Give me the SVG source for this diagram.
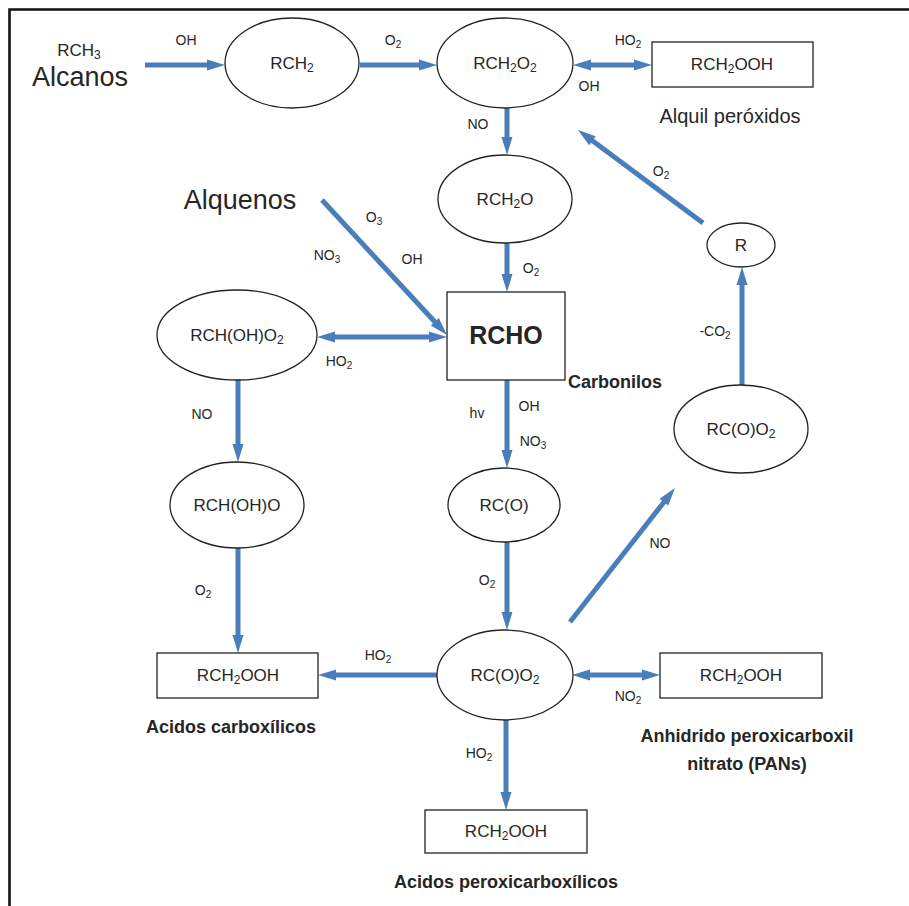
<svg xmlns="http://www.w3.org/2000/svg" width="909" height="906" viewBox="0 0 909 906">
<style>
.bg{fill:#ffffff}
.frame{fill:none;stroke:#111;stroke-width:2.6}
.nd{fill:#ffffff;stroke:#222;stroke-width:1.3}
.t{font-family:"Liberation Sans",Arial,sans-serif;fill:#262626;text-anchor:middle}
.n{font-size:17px}
.s{font-size:14px}
.b{font-weight:bold;font-size:18px}
.big{font-size:27px}
.cap{font-size:20px}
.c path,.c line{stroke:#4A7EBB;stroke-width:5;fill:none}
</style>
<defs>
<marker id="ah" markerUnits="userSpaceOnUse" markerWidth="18" markerHeight="11" refX="5" refY="5.5" orient="auto-start-reverse" overflow="visible">
<path d="M0,0 L18,5.5 L0,11 z" fill="#4A7EBB"/>
</marker>
</defs>
<rect class="bg" x="0" y="0" width="909" height="906"/>
<path class="frame" d="M9.5,906 V9.5 H909"/>

<g id="connectors" class="c">
<line x1="145" y1="65" x2="212" y2="65" marker-end="url(#ah)"/>
<line x1="360" y1="65" x2="424" y2="65" marker-end="url(#ah)"/>
<line x1="586" y1="65" x2="639" y2="65" marker-start="url(#ah)" marker-end="url(#ah)"/>
<line x1="507" y1="108" x2="507" y2="142" marker-end="url(#ah)"/>
<line x1="507" y1="243" x2="507" y2="279" marker-end="url(#ah)"/>
<line x1="703" y1="223" x2="588.4" y2="137.8" marker-end="url(#ah)"/>
<line x1="742" y1="385" x2="742" y2="280" marker-end="url(#ah)"/>
<line x1="322" y1="200" x2="438.2" y2="325.5" marker-end="url(#ah)"/>
<line x1="330" y1="337" x2="434" y2="337" marker-start="url(#ah)" marker-end="url(#ah)"/>
<line x1="238" y1="380" x2="238" y2="449" marker-end="url(#ah)"/>
<line x1="238" y1="548" x2="238" y2="640" marker-end="url(#ah)"/>
<line x1="507" y1="380" x2="507" y2="455" marker-end="url(#ah)"/>
<line x1="507" y1="542" x2="507" y2="617" marker-end="url(#ah)"/>
<line x1="570" y1="622" x2="667" y2="498.2" marker-end="url(#ah)"/>
<line x1="437" y1="675" x2="331" y2="675" marker-end="url(#ah)"/>
<line x1="585" y1="675" x2="647" y2="675" marker-start="url(#ah)" marker-end="url(#ah)"/>
<line x1="506" y1="720" x2="506" y2="797" marker-end="url(#ah)"/>
</g>

<g id="labels">
<text class="t s" x="186" y="45">OH</text>
<text class="t s" x="393" y="45">O<tspan font-size="10" dy="3">2</tspan></text>
<text class="t s" x="628" y="45">HO<tspan font-size="10" dy="3">2</tspan></text>
<text class="t s" x="589" y="91">OH</text>
<text class="t s" x="478" y="129">NO</text>
<text class="t s" x="661" y="176">O<tspan font-size="10" dy="3">2</tspan></text>
<text class="t s" x="374" y="222">O<tspan font-size="10" dy="3">3</tspan></text>
<text class="t s" x="327" y="260">NO<tspan font-size="10" dy="3">3</tspan></text>
<text class="t s" x="412" y="264">OH</text>
<text class="t s" x="531" y="273">O<tspan font-size="10" dy="3">2</tspan></text>
<text class="t s" x="339" y="366">HO<tspan font-size="10" dy="3">2</tspan></text>
<text class="t s" x="715" y="336">-CO<tspan font-size="10" dy="3">2</tspan></text>
<text class="t s" x="202" y="419">NO</text>
<text class="t s" x="477" y="418">hv</text>
<text class="t s" x="529" y="411">OH</text>
<text class="t s" x="533" y="446">NO<tspan font-size="10" dy="3">3</tspan></text>
<text class="t s" x="660" y="548">NO</text>
<text class="t s" x="203" y="595">O<tspan font-size="10" dy="3">2</tspan></text>
<text class="t s" x="487" y="585">O<tspan font-size="10" dy="3">2</tspan></text>
<text class="t s" x="378" y="660">HO<tspan font-size="10" dy="3">2</tspan></text>
<text class="t s" x="628" y="701">NO<tspan font-size="10" dy="3">2</tspan></text>
<text class="t s" x="479" y="758">HO<tspan font-size="10" dy="3">2</tspan></text>
</g>

<g id="alcanos">
<text class="t n" x="79" y="56">RCH<tspan font-size="12" dy="3">3</tspan></text>
<text class="t big" x="80" y="86">Alcanos</text>
</g>
<g id="alquenos">
<text class="t big" x="240" y="209">Alquenos</text>
</g>

<g id="rch2">
<ellipse class="nd" cx="292" cy="63" rx="67" ry="45"/>
<text class="t n" x="292" y="69">RCH<tspan font-size="12" dy="3">2</tspan></text>
</g>
<g id="rch2o2">
<ellipse class="nd" cx="505" cy="63" rx="68" ry="45"/>
<text class="t n" x="505" y="69">RCH<tspan font-size="12" dy="3">2</tspan><tspan dy="-3">O</tspan><tspan font-size="12" dy="3">2</tspan></text>
</g>
<g id="alquilperoxidos">
<rect class="nd" x="652" y="42" width="161" height="45"/>
<text class="t n" x="732" y="70">RCH<tspan font-size="12" dy="3">2</tspan><tspan dy="-3">OOH</tspan></text>
<text class="t cap" x="730" y="123">Alquil peróxidos</text>
</g>
<g id="rch2o">
<ellipse class="nd" cx="505" cy="199" rx="67" ry="44"/>
<text class="t n" x="505" y="205">RCH<tspan font-size="12" dy="3">2</tspan><tspan dy="-3">O</tspan></text>
</g>
<g id="rcho">
<rect class="nd" x="447" y="292" width="118" height="88"/>
<text class="t" x="506" y="344" style="font-size:25px;font-weight:bold">RCHO</text>
<text class="t b" x="568" y="388" style="text-anchor:start">Carbonilos</text>
</g>
<g id="r">
<ellipse class="nd" cx="741" cy="245" rx="34" ry="22"/>
<text class="t n" x="741" y="251">R</text>
</g>
<g id="rco_o2_top">
<ellipse class="nd" cx="741" cy="429" rx="67" ry="44"/>
<text class="t n" x="741" y="435">RC(O)O<tspan font-size="12" dy="3">2</tspan></text>
</g>
<g id="rchoho2">
<ellipse class="nd" cx="237" cy="335" rx="80" ry="45"/>
<text class="t n" x="237" y="341">RCH(OH)O<tspan font-size="12" dy="3">2</tspan></text>
</g>
<g id="rchoho">
<ellipse class="nd" cx="237" cy="505" rx="67" ry="43"/>
<text class="t n" x="237" y="511">RCH(OH)O</text>
</g>
<g id="acidoscarboxilicos">
<rect class="nd" x="157" y="653" width="161" height="45"/>
<text class="t n" x="238" y="681">RCH<tspan font-size="12" dy="3">2</tspan><tspan dy="-3">OOH</tspan></text>
<text class="t b" x="231" y="733">Acidos carboxílicos</text>
</g>
<g id="rco">
<ellipse class="nd" cx="504" cy="505" rx="56" ry="37"/>
<text class="t n" x="504" y="511">RC(O)</text>
</g>
<g id="rco_o2_bottom">
<ellipse class="nd" cx="505" cy="675" rx="68" ry="45"/>
<text class="t n" x="505" y="681">RC(O)O<tspan font-size="12" dy="3">2</tspan></text>
</g>
<g id="pans">
<rect class="nd" x="660" y="653" width="162" height="45"/>
<text class="t n" x="741" y="681">RCH<tspan font-size="12" dy="3">2</tspan><tspan dy="-3">OOH</tspan></text>
<text class="t b" x="747" y="742">Anhidrido peroxicarboxil</text>
<text class="t b" x="747" y="770">nitrato (PANs)</text>
</g>
<g id="acidosperoxicarboxilicos">
<rect class="nd" x="425" y="810" width="162" height="43"/>
<text class="t n" x="506" y="837">RCH<tspan font-size="12" dy="3">2</tspan><tspan dy="-3">OOH</tspan></text>
<text class="t b" x="506" y="888">Acidos peroxicarboxílicos</text>
</g>
</svg>
